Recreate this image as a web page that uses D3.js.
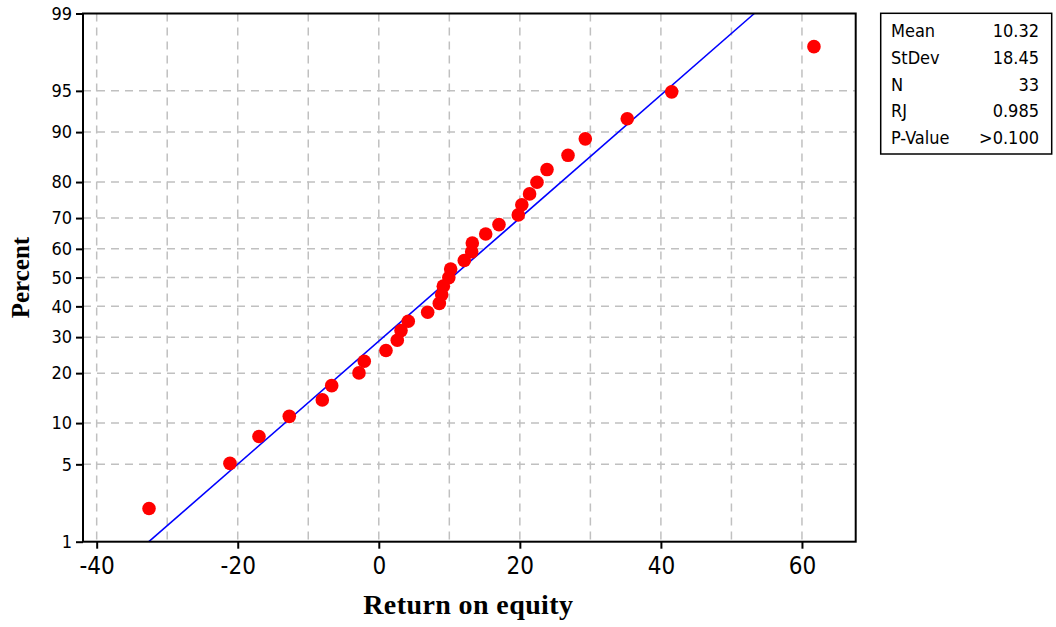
<!DOCTYPE html>
<html>
<head>
<meta charset="utf-8">
<script src="https://cdn.jsdelivr.net/npm/d3@7"></script>
<style>
  body { margin: 0; background: #fff; }
  .sans { font-family: "DejaVu Sans Condensed", "DejaVu Sans", sans-serif; font-stretch: condensed; }
  .title { font-family: "Liberation Serif", "Times New Roman", serif; font-weight: bold; }
</style>
</head>
<body>
<svg id="chart" width="1056" height="627"></svg>
<script>
// return on equity values, sorted
const roe = [-32.58, -21.10, -16.99, -12.69, -8.01, -6.68, -2.81, -2.06, 1.02, 2.62,
  3.15, 4.18, 6.93, 8.58, 8.92, 9.15, 9.93, 10.19, 12.12, 13.17, 13.26, 15.16,
  17.04, 19.78, 20.28, 21.38, 22.43, 23.85, 26.83, 29.28, 35.23, 41.53, 61.70];
// plotting positions in percent (median ranks)
const pct = [2.096, 5.090, 8.084, 11.078, 14.072, 17.066, 20.060, 23.054, 26.048, 29.042,
  32.036, 35.030, 38.024, 41.018, 44.012, 47.006, 50.000, 52.994, 55.988, 58.982,
  61.976, 64.970, 67.964, 70.958, 73.952, 76.946, 79.940, 82.934, 85.928, 88.922,
  91.916, 94.910, 97.904];
const xTicks = [-40, -20, 0, 20, 40, 60];
const xGrid = [-40, -30, -20, -10, 0, 10, 20, 30, 40, 50, 60];
const yTicks = [1, 5, 10, 20, 30, 40, 50, 60, 70, 80, 90, 95, 99];
const statLabels = ['Mean', 'StDev', 'N', 'RJ', 'P-Value'];
const statValues = ['10.32', '18.45', '33', '0.985', '>0.100'];
const mean = 10.32, sd = 18.45;

// inverse normal cdf (Acklam)
function probit(p) {
  const a = [-39.69683028665376, 220.9460984245205, -275.9285104469687, 138.3577518672690, -30.66479806614716, 2.506628277459239];
  const b = [-54.47609879822406, 161.5858368580409, -155.6989798598866, 66.80131188771972, -13.28068155288572];
  const c = [-0.007784894002430293, -0.3223964580411365, -2.400758277161838, -2.549732539343734, 4.374664141464968, 2.938163982698783];
  const d = [0.007784695709041462, 0.3224671290700398, 2.445134137142996, 3.754408661907416];
  const pl = 0.02425;
  let q, r;
  if (p < pl) {
    q = Math.sqrt(-2 * Math.log(p));
    return (((((c[0]*q+c[1])*q+c[2])*q+c[3])*q+c[4])*q+c[5]) / ((((d[0]*q+d[1])*q+d[2])*q+d[3])*q+1);
  }
  if (p > 1 - pl) {
    q = Math.sqrt(-2 * Math.log(1 - p));
    return -(((((c[0]*q+c[1])*q+c[2])*q+c[3])*q+c[4])*q+c[5]) / ((((d[0]*q+d[1])*q+d[2])*q+d[3])*q+1);
  }
  q = p - 0.5; r = q * q;
  return (((((a[0]*r+a[1])*r+a[2])*r+a[3])*r+a[4])*r+a[5])*q / (((((b[0]*r+b[1])*r+b[2])*r+b[3])*r+b[4])*r+1);
}

const svg = d3.select('#chart');
const L = 83, T = 13.5, R = 855.7, B = 541.7;

const x = d3.scaleLinear().domain([-41.94, 67.62]).range([L, R]);
const y = d3.scaleLinear().domain([probit(0.01), probit(0.99)]).range([B, T]);
const yp = p => y(probit(p / 100));

// grid
const grid = svg.append('g')
  .attr('stroke', '#c0c0c0').attr('stroke-width', 1.5).attr('stroke-dasharray', '8,6');
grid.selectAll('line.v').data(xGrid).enter().append('line')
  .attr('x1', d => x(d)).attr('x2', d => x(d)).attr('y1', T).attr('y2', B);
grid.selectAll('line.h').data(yTicks.slice(1, -1)).enter().append('line')
  .attr('y1', d => yp(d)).attr('y2', d => yp(d)).attr('x1', L).attr('x2', R);

// axes
const xAxis = svg.append('g').attr('class', 'sans')
  .attr('transform', `translate(0,${B})`)
  .call(d3.axisBottom(x).tickValues(xTicks).tickSize(7).tickPadding(8).tickFormat(d => d < 0 ? '-' + Math.abs(d) : d));
xAxis.select('.domain').remove();
xAxis.selectAll('text').attr('font-size', 24).attr('fill', '#000').attr('font-family', null);
xAxis.selectAll('line').attr('stroke', '#000').attr('stroke-width', 2);

const yAxis = svg.append('g').attr('class', 'sans')
  .attr('transform', `translate(${L},0)`)
  .call(d3.axisLeft(y).tickValues(yTicks.map(p => probit(p / 100))).tickSize(7).tickPadding(4)
    .tickFormat((d, i) => yTicks[i]));
yAxis.select('.domain').remove();
yAxis.selectAll('text').attr('font-size', 18).attr('fill', '#000').attr('font-family', null);
yAxis.selectAll('line').attr('stroke', '#000').attr('stroke-width', 2);

// fitted line
const fitP = [1, 99];
svg.append('path')
  .datum(fitP)
  .attr('fill', 'none').attr('stroke', '#0000ff').attr('stroke-width', 1.6)
  .attr('d', d3.line().x(p => x(mean + sd * probit(p / 100))).y(p => yp(p)));

// points
svg.append('g').selectAll('circle').data(roe).enter().append('circle')
  .attr('cx', d => x(d)).attr('cy', (d, i) => yp(pct[i]))
  .attr('r', 6.8).attr('fill', '#ff0000');

// frame
svg.append('rect').attr('x', L).attr('y', T).attr('width', R - L).attr('height', B - T)
  .attr('fill', 'none').attr('stroke', '#000').attr('stroke-width', 2);

// titles
svg.append('text').attr('class', 'title')
  .attr('x', (L + R) / 2 - 1).attr('y', 614).attr('text-anchor', 'middle')
  .attr('font-size', 28).attr('letter-spacing', 0.4).text('Return on equity');
svg.append('text').attr('class', 'title')
  .attr('transform', `translate(29,${(T + B) / 2}) rotate(-90)`).attr('text-anchor', 'middle')
  .attr('font-size', 25).text('Percent');

// stats box
const box = svg.append('g').attr('class', 'sans');
box.append('rect').attr('x', 880.7).attr('y', 13.3).attr('width', 171).attr('height', 140.7)
  .attr('fill', '#fff').attr('stroke', '#000').attr('stroke-width', 1.5);
box.selectAll('text.lab').data(statLabels).enter().append('text')
  .attr('x', 891).attr('y', (d, i) => 37.3 + i * 26.7).attr('font-size', 18).text(d => d);
box.selectAll('text.val').data(statValues).enter().append('text')
  .attr('x', 1039).attr('y', (d, i) => 37.3 + i * 26.7).attr('font-size', 18)
  .attr('text-anchor', 'end').text(d => d);
</script>
</body>
</html>
